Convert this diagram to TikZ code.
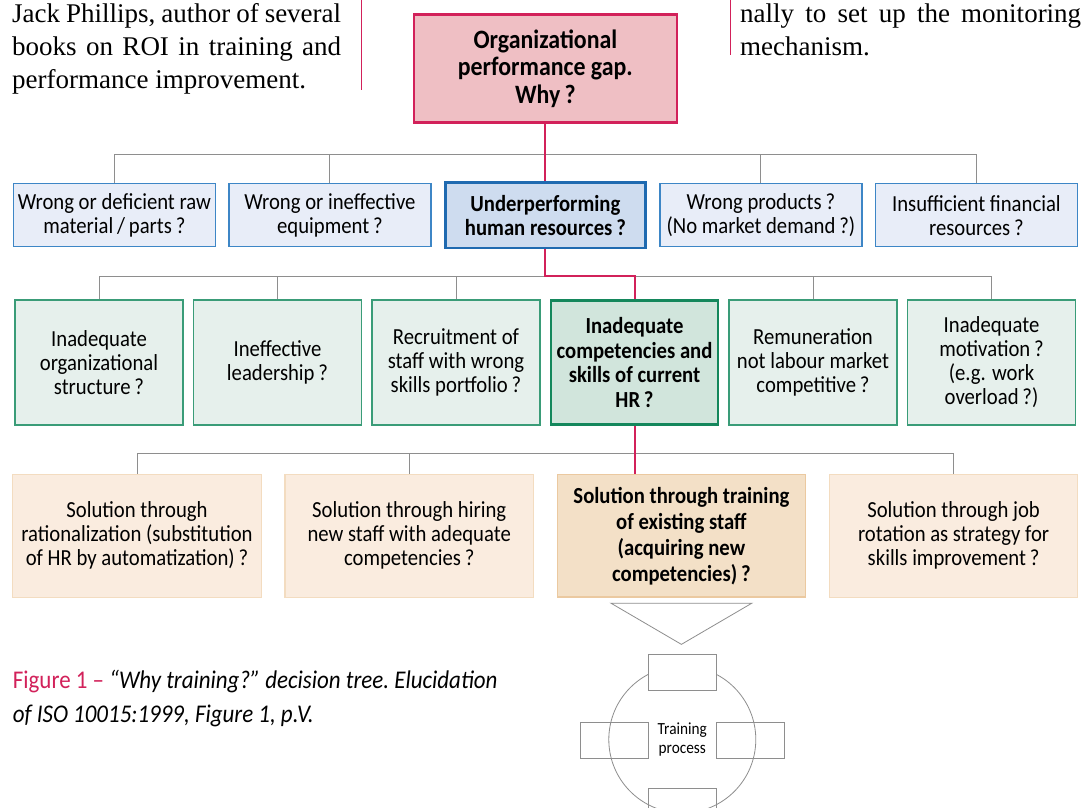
\documentclass[tikz,border=0pt]{standalone}
\usepackage{fontspec}
\setmainfont{Liberation Serif}
\newfontfamily\boxfont{Carlito}[FakeStretch=0.9]
\usetikzlibrary{positioning,calc}

\definecolor{gapred}{HTML}{D2215A}
\definecolor{gapfill}{HTML}{EFBFC4}
\definecolor{causeblue}{HTML}{3D86C6}
\definecolor{causefill}{HTML}{E8EDF8}
\definecolor{hrblue}{HTML}{1F6AB0}
\definecolor{hrfill}{HTML}{CEDCEF}
\definecolor{skillgreen}{HTML}{3A9C78}
\definecolor{skillfill}{HTML}{E6F0EC}
\definecolor{curgreen}{HTML}{14875C}
\definecolor{curfill}{HTML}{D1E5DC}
\definecolor{solborder}{HTML}{F3DCC0}
\definecolor{solfill}{HTML}{FAECDF}
\definecolor{trainborder}{HTML}{EBC9A0}
\definecolor{trainfill}{HTML}{F3E0C7}
\definecolor{treegray}{HTML}{8E8E8E}

\tikzset{
  box/.style={draw, rectangle, align=center, inner sep=0pt,
    font=\boxfont\fontsize{23}{24}\selectfont},
  cause/.style={box, draw=causeblue, fill=causefill, line width=1.2pt,
    minimum width=202pt, minimum height=63pt, node distance=215.5pt},
  skill/.style={box, draw=skillgreen, fill=skillfill, line width=1.2pt,
    minimum width=168pt, minimum height=125pt, node distance=178.5pt},
  solution/.style={box, draw=solborder, fill=solfill, line width=1.2pt,
    minimum width=248.5pt, minimum height=123pt, node distance=272.2pt},
  chosen/.style={line width=2.8pt, font=\boxfont\bfseries\fontsize{23}{24.5}\selectfont},
  tree/.style={draw=treegray, line width=1pt},
  why/.style={draw=gapred, line width=2pt},
  phase/.style={draw=treegray, line width=0.8pt, minimum width=68pt, minimum height=36pt, inner sep=0pt},
  page/.style={anchor=base west, inner sep=0pt, font=\fontsize{27}{33}\selectfont}
}

\begin{document}
\begin{tikzpicture}[x=1pt,y=-1pt]
  \useasboundingbox[fill=white] (0,0) rectangle (1081,807);

  % surrounding page text
  \node[page] (quote1) at (12,22) {\makebox[329pt][s]{Jack Phillips, author of several}};
  \node[page] (quote2) at (12,55) {\makebox[329pt][s]{books on ROI in training and}};
  \node[page] (quote3) at (12,88) {performance improvement.};
  \node[page] (mon1) at (740,22) {\makebox[341pt][s]{nally to set up the monitoring}};
  \node[page] (mon2) at (740,55) {mechanism.};
  \draw[draw=gapred, line width=1pt] (361,0) -- (361,90);
  \draw[draw=gapred, line width=1pt] (730,0) -- (730,55);

  % top of the tree
  \node[box, draw=gapred, fill=gapfill, line width=2.8pt, minimum width=263pt,
    minimum height=108pt, font=\boxfont\bfseries\fontsize{26.5}{27.5}\selectfont]
    (gap) at (545.4,68.7) {Organizational\\performance gap.\\Why\,?};

  % causes
  \node[cause]         (raw)   at (114.4,215.3) {Wrong or deficient raw\\material\,/\,parts\,?};
  \node[cause]         (equip) [right of=raw]   {Wrong or ineffective\\equipment\,?};
  \node[cause, chosen, draw=hrblue, fill=hrfill, minimum width=200.5pt, minimum height=65.5pt]
                       (hr)    [right of=equip] {Underperforming\\human resources\,?};
  \node[cause]         (prod)  [right of=hr]    {Wrong products\,?\\(No market demand\,?)};
  \node[cause]         (fin)   [right of=prod]  {Insufficient financial\\resources\,?};

  % HR causes
  \node[skill]         (org)   at (99,362.4)    {Inadequate\\organizational\\structure\,?};
  \node[skill]         (lead)  [right of=org]   {Ineffective\\leadership\,?};
  \node[skill]         (recr)  [right of=lead]  {Recruitment of\\staff with wrong\\skills portfolio\,?};
  \node[skill, chosen, draw=curgreen, fill=curfill, minimum width=167pt, minimum height=123.5pt]
                       (comp)  [right of=recr]  {Inadequate\\competencies and\\skills of current\\HR\,?};
  \node[skill]         (pay)   [right of=comp]  {Remuneration\\not labour market\\competitive\,?};
  \node[skill]         (motiv) [right of=pay]   {Inadequate\\motivation\,?\\(e.g. work\\overload\,?)};

  % solutions
  \node[solution]      (auto)  at (137,535.8)   {Solution through\\rationalization (substitution\\of HR by automatization)\,?};
  \node[solution]      (hire)  [right of=auto]  {Solution through hiring\\new staff with adequate\\competencies\,?};
  \node[solution, chosen, draw=trainborder, fill=trainfill, line width=1.6pt, minimum width=248pt, minimum height=122.5pt,
    font=\boxfont\bfseries\fontsize{23}{26}\selectfont]
                       (train) [right of=hire]  {Solution through training\\of existing staff\\(acquiring new\\competencies)\,?};
  \node[solution]      (rot)   [right of=train] {Solution through job\\rotation as strategy for\\skills improvement\,?};

  % connectors
  \coordinate (bus1) at ($(hr.north)+(0,-26.5)$);
  \draw[tree] (raw.north) |- (bus1) -| (fin.north);
  \foreach \n in {equip,prod} \draw[tree] (\n.north) -- (\n.north |- bus1);
  \draw[why] (gap) -- (hr);

  \coordinate (bus2) at ($(comp.north)+(0,-23)$);
  \draw[tree] (org.north) |- (bus2) -| (motiv.north);
  \foreach \n in {lead,recr,pay} \draw[tree] (\n.north) -- (\n.north |- bus2);
  \draw[why] (hr.south) |- (bus2) -- (comp.north);

  \coordinate (bus3) at ($(hire.north)+(0,-20)$);
  \draw[tree] (auto.north) |- (bus3) -| (rot.north);
  \draw[tree] (hire.north) -- (bus3);
  \draw[why] (comp.south) -- (comp.south |- train.north);

  % training process
  \draw[tree, line width=0.8pt] ($(train.south)+(-70.5,5.3)$) -- ($(train.south)+(70.5,5.3)$)
    -- ($(train.south)+(0,46.5)$) -- cycle;
  \node[circle, draw=treegray, line width=0.8pt, minimum size=147pt, inner sep=0pt,
    font=\boxfont\fontsize{17}{19}\selectfont, align=center]
    (cycle) at (682.3,739.5) {Training\\process};
  \node[phase, fill=white] (p1) at ($(cycle.north)+(0,6.5)$) {};
  \node[phase] (p2) at ($(cycle.east)+(-6,0.5)$) {};
  \node[phase] (p3) at ($(cycle.south)+(0,-7.5)$) {};
  \node[phase] (p4) at ($(cycle.west)+(6,0.5)$) {};

  % caption
  \node[anchor=base west, inner sep=0pt, align=left, font=\boxfont\frenchspacing\fontsize{25.5}{34.5}\selectfont]
    (caption) at (12.7,722.6)
    {\textcolor{gapred}{Figure 1 –} \textit{“Why training?”\ decision tree. Elucidation}\\
     \textit{of ISO 10015:1999, Figure 1, p.V.}};
\end{tikzpicture}
\end{document}
